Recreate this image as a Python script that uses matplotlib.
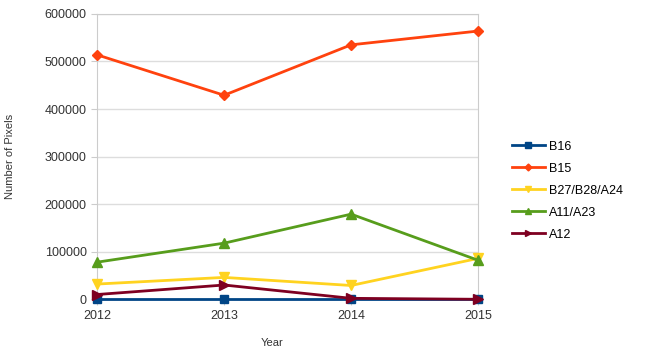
import matplotlib.pyplot as plt

plt.rcParams['font.family'] = ['Liberation Sans', 'DejaVu Sans']

years = [2012, 2013, 2014, 2015]
b16 = [0, 0, 0, 0]
b15 = [514000, 429000, 535000, 564000]
b27 = [32000, 46000, 29000, 86000]
a11 = [78000, 118000, 179000, 82000]
a12 = [10000, 30000, 2000, 0]

series = [
    ('B16', b16, '#004586', 's', 6),
    ('B15', b15, '#ff420e', 'D', 5),
    ('B27/B28/A24', b27, '#ffd320', 'v', 7),
    ('A11/A23', a11, '#579d1c', '^', 7),
    ('A12', a12, '#7e0021', '>', 7),
]

fig = plt.figure(figsize=(6.47, 3.48), dpi=100)
ax = fig.add_axes([0.15, 0.14, 0.589, 0.82])

for name, vals, col, mk, ms in series:
    ax.plot(years, vals, color=col, marker=mk, markersize=ms, linewidth=2,
            label=name, clip_on=False, zorder=3)

ax.set_xlim(2012, 2015)
ax.set_ylim(0, 600000)
ax.set_xticks(years)
ax.set_yticks(range(0, 600001, 100000))
ax.grid(axis='y', color='#dddddd', linewidth=1)
ax.set_axisbelow(True)
for s in ax.spines.values():
    s.set_color('#cccccc')
ax.tick_params(axis='both', colors='#cccccc', labelcolor='#333333', labelsize=9, length=4)
ax.set_ylabel('Number of Pixels', fontsize=8, color='#333333')
ax.yaxis.set_label_coords(-0.215, 0.5)
ax.set_xlabel('Year', fontsize=8, color='#333333')
ax.xaxis.set_label_coords(0.46, -0.135)

ax.legend(loc='center left', bbox_to_anchor=(1.06, 0.38), frameon=False, fontsize=9,
          handlelength=2.6, labelspacing=0.8, handletextpad=0.35, markerscale=0.7)

fig.savefig('out.png', dpi=100)
